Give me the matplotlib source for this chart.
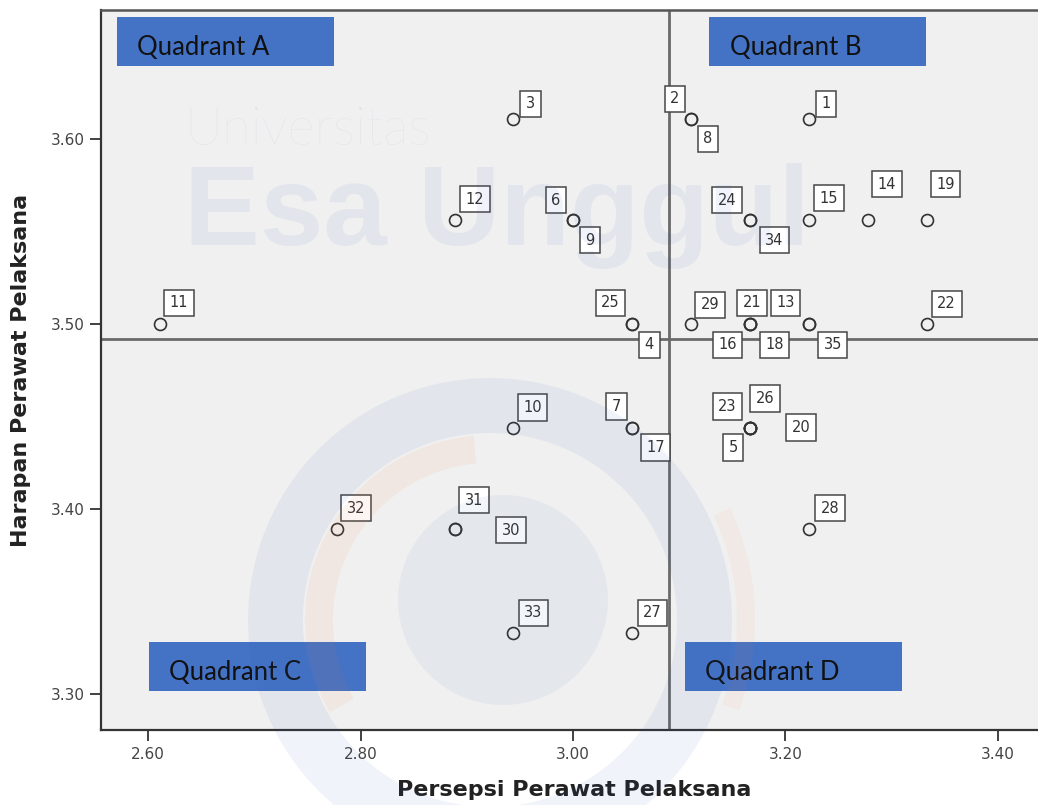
import matplotlib
matplotlib.use('Agg')
import matplotlib.pyplot as plt
from matplotlib.patches import Rectangle, Wedge, Circle
from matplotlib.transforms import Affine2D

# ---------------- data ----------------
case_ids = list(range(1, 36))
persepsi = [3.222, 3.111, 2.944, 3.056, 3.167, 3.000, 3.056, 3.111, 3.000, 2.944,
            2.611, 2.889, 3.222, 3.278, 3.222, 3.167, 3.056, 3.167, 3.333, 3.167,
            3.167, 3.333, 3.167, 3.167, 3.056, 3.167, 3.056, 3.222, 3.111, 2.889,
            2.889, 2.778, 2.944, 3.167, 3.222]
harapan = [3.611, 3.611, 3.611, 3.500, 3.444, 3.556, 3.444, 3.611, 3.556, 3.444,
           3.500, 3.556, 3.500, 3.556, 3.556, 3.500, 3.444, 3.500, 3.556, 3.444,
           3.500, 3.500, 3.444, 3.556, 3.500, 3.444, 3.333, 3.389, 3.500, 3.389,
           3.389, 3.389, 3.333, 3.556, 3.500]
mean_persepsi = 3.090
mean_harapan = 3.492
x_ticks = [2.60, 2.80, 3.00, 3.20, 3.40]
y_ticks = [3.30, 3.40, 3.50, 3.60]
quadrant_names = ["Quadrant A", "Quadrant B", "Quadrant C", "Quadrant D"]
x_label = "Persepsi Perawat Pelaksana"
y_label = "Harapan Perawat Pelaksana"

# ---------------- styling (label box centre offsets in pixels: right, down) ----------------
label_offsets = {
    1: (17, -15), 2: (-16, -20), 3: (17, -15), 4: (17, 21), 5: (-17, 20),
    6: (-17, -20), 7: (-16, -21), 8: (17, 20), 9: (17, 20), 10: (19, -20),
    11: (19, -21), 12: (20, -21), 13: (-23, -21), 14: (19, -36), 15: (20, -22),
    16: (-23, 21), 17: (23, 20), 18: (24, 21), 19: (19, -36), 20: (51, 0),
    21: (2, -21), 22: (20, -20), 23: (-23, -21), 24: (-23, -20), 25: (-22, -21),
    26: (15, -29), 27: (20, -20), 28: (21, -21), 29: (19, -19), 30: (56, 1),
    31: (19, -29), 32: (19, -21), 33: (20, -20), 34: (24, 20), 35: (24, 21),
}

W, H = 1038, 805
fig = plt.figure(figsize=(W / 100, H / 100), dpi=100, facecolor='white')

# axes placement (pixel based)
ax_l, ax_r, ax_t, ax_b = 101, 1050, 10, 730
ax = fig.add_axes([ax_l / W, (H - ax_b) / H, (ax_r - ax_l) / W, (ax_b - ax_t) / H])
ax.set_facecolor('#F0F0F0')
ax.set_xlim(2.5556, 3.4492)
ax.set_ylim(3.2805, 3.6697)

ax.axvline(mean_persepsi, color='#6a6a6a', lw=2.0, zorder=2)
ax.axhline(mean_harapan, color='#6a6a6a', lw=2.0, zorder=2)

ax.plot(persepsi, harapan, linestyle='none', marker='o', markersize=8.6,
        markerfacecolor='none', markeredgecolor='#333333', markeredgewidth=1.2, zorder=3)

for cid, xv, yv in zip(case_ids, persepsi, harapan):
    dx, dy = label_offsets[cid]
    ax.annotate(str(cid), (xv, yv), xytext=(dx, -dy), textcoords='offset pixels',
                ha='center', va='center', fontsize=10.5, color='#333333',
                bbox=dict(boxstyle='square,pad=0.38', fc='white', ec='#474747', lw=1.1),
                zorder=5, annotation_clip=False)

ax.set_xticks(x_ticks)
ax.set_xticklabels([f"{v:.2f}" for v in x_ticks])
ax.set_yticks(y_ticks)
ax.set_yticklabels([f"{v:.2f}" for v in y_ticks])
ax.tick_params(axis='both', length=8, width=1.3, color='#333333', labelsize=11,
               labelcolor='#444444', pad=4)
for side in ['left', 'bottom']:
    ax.spines[side].set_color('#333333')
    ax.spines[side].set_linewidth(1.6)
ax.spines['top'].set_color('#555555')
ax.spines['top'].set_linewidth(1.8)
ax.spines['right'].set_visible(False)

ax.set_xlabel(x_label, fontsize=16, fontweight='bold', color='#222222')
ax.xaxis.set_label_coords((574 - ax_l) / (ax_r - ax_l), (ax_b - 790) / (ax_b - ax_t))
ax.xaxis.label.set_va('center')
ax.set_ylabel(y_label, fontsize=16, fontweight='bold', color='#222222')
ax.yaxis.set_label_coords((21 - ax_l) / (ax_r - ax_l), 0.5)
ax.yaxis.label.set_va('center')

# image-pixel transform (origin top-left)
T = Affine2D().scale(1, -1).translate(0, H)

# quadrant boxes
quad_boxes = [(117, 17, 217, 49, 137, 55), (709, 17, 217, 49, 730, 55),
              (149, 642, 217, 49, 169, 680), (685, 642, 217, 49, 705, 680)]
for name, (bx, by, bw, bh, tx, ty) in zip(quadrant_names, quad_boxes):
    r = Rectangle((bx, by + bh), bw, -bh, transform=T, facecolor='#4472C4',
                  edgecolor='none', zorder=20)
    fig.add_artist(r)
    fig.text(tx, ty, name, transform=T, fontsize=18.5, family='Lato', color='#111111',
             ha='left', va='baseline', zorder=21)

# faint watermark
wm_blue = '#2F5DB5'
wm_orange = '#F07A3A'
ring = Wedge((490, 620), 242, 0, 360, width=55, transform=T, facecolor=wm_blue,
             edgecolor='none', alpha=0.07, zorder=30)
fig.add_artist(ring)
disc = Circle((503, 600), 105, transform=T, facecolor=wm_blue, edgecolor='none',
              alpha=0.06, zorder=30)
fig.add_artist(disc)
o1 = Wedge((490, 620), 185, 150, 265, width=28, transform=T, facecolor=wm_orange,
           edgecolor='none', alpha=0.07, zorder=30)
fig.add_artist(o1)
o2 = Wedge((490, 620), 265, -25, 20, width=18, transform=T, facecolor=wm_orange,
           edgecolor='none', alpha=0.06, zorder=30)
fig.add_artist(o2)
o3 = Wedge((470, -80), 170, 185, 355, width=45, transform=T, facecolor=wm_orange,
           edgecolor='none', alpha=0.08, zorder=30)
fig.add_artist(o3)
fig.text(184, 145, "Universitas", transform=T, fontsize=38, family='Lato',
         fontweight='light', color='#5b7fc0', alpha=0.10, ha='left', va='baseline', zorder=30)
fig.text(184, 245, "Esa Unggul", transform=T, fontsize=82, family='Liberation Sans',
         fontweight='bold', color=wm_blue, alpha=0.07, ha='left', va='baseline', zorder=30)

fig.savefig('out.png', dpi=100, facecolor='white')
